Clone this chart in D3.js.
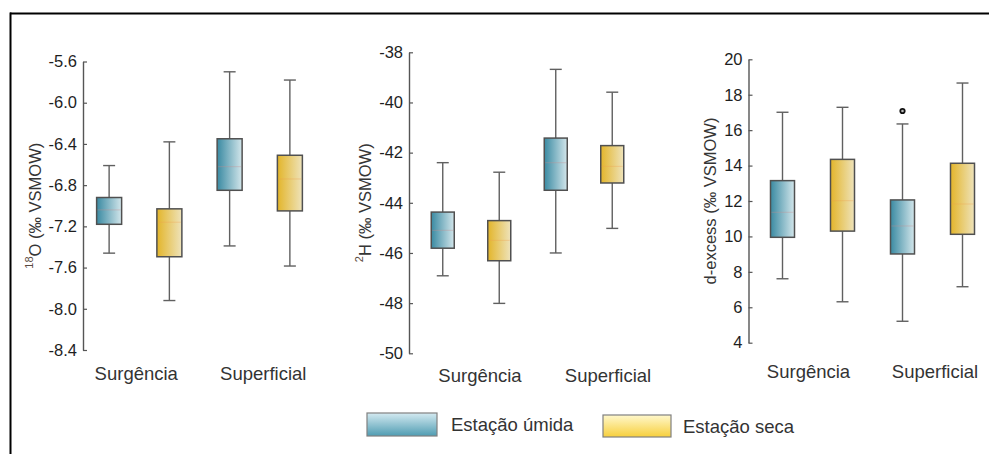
<!DOCTYPE html>
<html>
<head>
<meta charset="utf-8">
<script src="https://cdn.jsdelivr.net/npm/d3@7"></script>
<style>
  html, body { margin: 0; padding: 0; background: #fff; }
  svg { display: block; font-family: "Liberation Sans", Arial, sans-serif; }
</style>
</head>
<body>
<svg id="chart" width="989" height="454"></svg>
<script>
// Sampling sites and seasons
const categories = ["Surgência", "Superficial"];
const seasons = ["Estação úmida", "Estação seca"];

// Box summaries per site: [lower whisker, Q1, median, Q3, upper whisker]
const d18O_umida = [[-7.46, -7.18, -7.04, -6.92, -6.61], [-7.39, -6.85, -6.62, -6.35, -5.70]];
const d18O_seca  = [[-7.92, -7.495, -7.16, -7.03, -6.38], [-7.585, -7.05, -6.74, -6.51, -5.78]];
const d2H_umida  = [[-46.91, -45.81, -45.10, -44.37, -42.40], [-46.00, -43.50, -42.40, -41.42, -38.68]];
const d2H_seca   = [[-48.01, -46.31, -45.50, -44.71, -42.78], [-45.02, -43.21, -42.55, -41.72, -39.59]];
const dex_umida  = [[7.61, 9.95, 11.36, 13.15, 17.01], [5.21, 9.01, 10.59, 12.06, 16.35]];
const dex_seca   = [[6.31, 10.30, 12.02, 14.35, 17.29], [7.16, 10.12, 11.83, 14.13, 18.66]];

// Outliers per site
const d18O_out_umida = [[], []];
const d18O_out_seca  = [[], []];
const d2H_out_umida  = [[], []];
const d2H_out_seca   = [[], []];
const dex_out_umida  = [[], [17.08]];
const dex_out_seca   = [[], []];

// Tick values
const d18O_ticks = [-5.6, -6.0, -6.4, -6.8, -7.2, -7.6, -8.0, -8.4];
const d2H_ticks  = [-38, -40, -42, -44, -46, -48, -50];
const dex_ticks  = [20, 18, 16, 14, 12, 10, 8, 6, 4];

const svg = d3.select("#chart");
const defs = svg.append("defs");

// Horizontal gradients for boxes
const boxGrad = [
  { id: "gWet", stops: ["#3a8aa2", "#d3e6eb"] },
  { id: "gDry", stops: ["#e3b52a", "#eee3bb"] }
];
boxGrad.forEach(g => {
  const lg = defs.append("linearGradient").attr("id", g.id)
    .attr("x1", "0%").attr("x2", "100%").attr("y1", "0%").attr("y2", "0%");
  lg.append("stop").attr("offset", "0%").attr("stop-color", g.stops[0]);
  lg.append("stop").attr("offset", "100%").attr("stop-color", g.stops[1]);
});
// Vertical gradients for legend swatches
const legGrad = [
  { id: "lWet", stops: ["#d4eaf1", "#4f9cb2"] },
  { id: "lDry", stops: ["#fff8cc", "#f7cf3c"] }
];
legGrad.forEach(g => {
  const lg = defs.append("linearGradient").attr("id", g.id)
    .attr("x1", "0%").attr("x2", "0%").attr("y1", "0%").attr("y2", "100%");
  lg.append("stop").attr("offset", "0%").attr("stop-color", g.stops[0]);
  lg.append("stop").attr("offset", "100%").attr("stop-color", g.stops[1]);
});
const fills = ["url(#gWet)", "url(#gDry)"];
const medianColors = ["#c98a8a", "#f0a050"];

const panels = [
  {
    axisX: 83, yTop: 61.5, yBot: 350, domain: [-8.4, -5.6], ticks: d18O_ticks,
    fmt: d => d.toFixed(1), band: [79, 320], boxW: 25, labelDx: [-3, 3.5], labelY: 380,
    titleX: 35, titleSup: "18", titleMain: "O (‰ VSMOW)",
    series: [d18O_umida, d18O_seca], outliers: [d18O_out_umida, d18O_out_seca]
  },
  {
    axisX: 409, yTop: 52.3, yBot: 353.3, domain: [-50, -38], ticks: d2H_ticks,
    fmt: d => String(d), band: [414.5, 640.5], boxW: 23, labelDx: [9, 24], labelY: 382,
    titleX: 365, titleSup: "2", titleMain: "H (‰ VSMOW)",
    series: [d2H_umida, d2H_seca], outliers: [d2H_out_umida, d2H_out_seca]
  },
  {
    axisX: 748.5, yTop: 59.3, yBot: 342.7, domain: [4, 20], ticks: dex_ticks,
    fmt: d => String(d), band: [752.5, 992.5], boxW: 24, labelDx: [-4, 2.5], labelY: 378,
    titleX: 710, titleSup: "", titleMain: "d-excess (‰ VSMOW)",
    series: [dex_umida, dex_seca], outliers: [dex_out_umida, dex_out_seca]
  }
];

panels.forEach(p => {
  const g = svg.append("g");
  const y = d3.scaleLinear().domain(p.domain).range([p.yBot, p.yTop]);
  const xCat = d3.scaleBand().domain(categories).range(p.band).padding(0);
  const xSea = d3.scaleBand().domain(seasons).range([0, xCat.bandwidth()]).padding(0);

  // Y axis: ticks point inward, labels on the left
  const ax = g.append("g")
    .attr("transform", `translate(${p.axisX},0)`)
    .call(d3.axisLeft(y).tickValues(p.ticks).tickFormat(p.fmt)
      .tickSizeInner(-4).tickSizeOuter(0).tickPadding(6));
  ax.select(".domain").attr("stroke", "#555").attr("stroke-width", 1.4);
  ax.selectAll(".tick line").attr("stroke", "#555").attr("stroke-width", 1.2);
  ax.selectAll(".tick text")
    .attr("font-size", 16.5).attr("fill", "#1e1e1e")
    .attr("font-family", "'Liberation Sans', Arial, sans-serif");

  // Axis title
  const cy = (p.yTop + p.yBot) / 2;
  const t = g.append("text")
    .attr("transform", `translate(${p.titleX},${cy}) rotate(-90)`)
    .attr("text-anchor", "middle").attr("dominant-baseline", "central")
    .attr("font-size", 16.5).attr("fill", "#353535");
  if (p.titleSup) {
    t.append("tspan").attr("font-size", 11).attr("fill", "#5a4a40").attr("dy", -6).text(p.titleSup);
    t.append("tspan").attr("dy", 6).text(p.titleMain);
  } else {
    t.text(p.titleMain);
  }

  // Boxes
  seasons.forEach((s, si) => {
    const values = p.series[si];
    categories.forEach((c, ci) => {
      const [lo, q1, med, q3, hi] = values[ci];
      const cx = xCat(c) + xSea(s) + xSea.bandwidth() / 2;
      const w = p.boxW;
      const bg = g.append("g");
      // whiskers
      bg.append("line").attr("x1", cx).attr("x2", cx).attr("y1", y(hi)).attr("y2", y(q3))
        .attr("stroke", "#606060").attr("stroke-width", 1.4);
      bg.append("line").attr("x1", cx).attr("x2", cx).attr("y1", y(q1)).attr("y2", y(lo))
        .attr("stroke", "#606060").attr("stroke-width", 1.4);
      [hi, lo].forEach(v => {
        bg.append("line").attr("x1", cx - 6).attr("x2", cx + 6).attr("y1", y(v)).attr("y2", y(v))
          .attr("stroke", "#606060").attr("stroke-width", 1.4);
      });
      // box
      bg.append("rect").attr("x", cx - w / 2).attr("y", y(q3))
        .attr("width", w).attr("height", y(q1) - y(q3))
        .attr("fill", fills[si]).attr("stroke", "#505050").attr("stroke-width", 1.5);
      // median
      bg.append("line").attr("x1", cx - w / 2 + 1).attr("x2", cx + w / 2 - 1)
        .attr("y1", y(med)).attr("y2", y(med))
        .attr("stroke", medianColors[si]).attr("stroke-opacity", 0.3).attr("stroke-width", 1.2);
      // outliers
      p.outliers[si][ci].forEach(v => {
        bg.append("circle").attr("cx", cx).attr("cy", y(v)).attr("r", 2.2)
          .attr("fill", "#bbb").attr("stroke", "#111").attr("stroke-width", 1.8);
      });
    });
  });

  // Category labels
  categories.forEach((c, ci) => {
    g.append("text")
      .attr("x", xCat(c) + xCat.bandwidth() / 2 + p.labelDx[ci])
      .attr("y", p.labelY)
      .attr("text-anchor", "middle").attr("font-size", 18.5).attr("fill", "#333")
      .text(c);
  });
});

// Legend
const legendItems = [
  { x: 367, y: 413, w: 70, h: 23, fill: "url(#lWet)", tx: 451, ty: 431 },
  { x: 603, y: 415, w: 68, h: 22, fill: "url(#lDry)", tx: 683, ty: 433 }
];
seasons.forEach((s, i) => {
  const it = legendItems[i];
  svg.append("rect").attr("x", it.x).attr("y", it.y).attr("width", it.w).attr("height", it.h)
    .attr("fill", it.fill).attr("stroke", "#808080").attr("stroke-width", 1.2);
  svg.append("text").attr("x", it.tx).attr("y", it.ty)
    .attr("font-size", 18.5).attr("fill", "#333").text(s);
});

// Frame lines (top and left)
svg.append("line").attr("x1", 10).attr("x2", 989).attr("y1", 13.5).attr("y2", 13.5)
  .attr("stroke", "#000").attr("stroke-width", 2);
svg.append("line").attr("x1", 10.5).attr("x2", 10.5).attr("y1", 12.5).attr("y2", 454)
  .attr("stroke", "#000").attr("stroke-width", 2);
</script>
</body>
</html>
